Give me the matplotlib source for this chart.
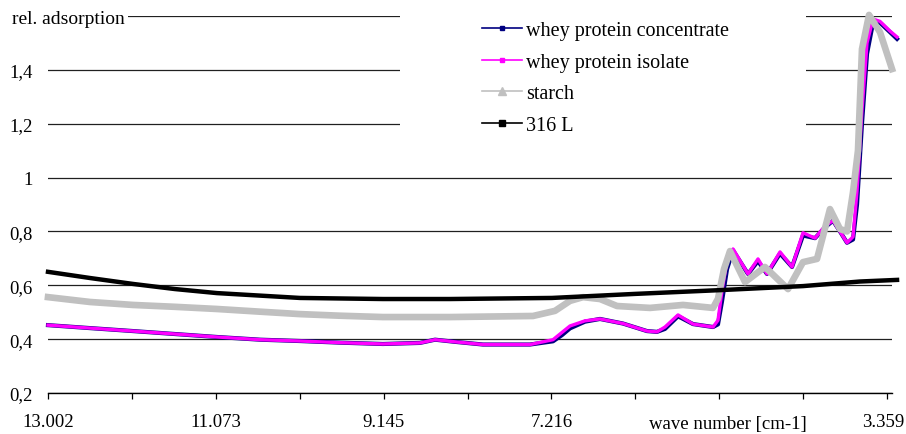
import numpy as np
import matplotlib
matplotlib.use('Agg')
import matplotlib.pyplot as plt
from matplotlib.lines import Line2D
from matplotlib.patches import Rectangle

plt.rcParams['font.family'] = ['Liberation Serif', 'DejaVu Serif']
plt.rcParams['font.size'] = 13.5

# values
wn_protein = [13002, 12519, 12025, 11542, 11060, 10566, 10106, 9646, 9152, 8727,
              8554, 8324, 8003, 7462, 7198, 7095, 7003, 6830, 6658, 6394,
              6118, 6003, 5911, 5761, 5589, 5359, 5302, 5256, 5198, 5129,
              4957, 4842, 4739, 4589, 4451, 4325, 4187, 4072, 3980, 3900,
              3819, 3750, 3704, 3647, 3589, 3520, 3440, 3325, 3244]
wpi = [0.452, 0.441, 0.43, 0.419, 0.408, 0.398, 0.393, 0.387, 0.382, 0.386,
       0.398, 0.39, 0.38, 0.38, 0.398, 0.425, 0.449, 0.468, 0.475, 0.458,
       0.43, 0.427, 0.445, 0.49, 0.456, 0.445, 0.47, 0.58, 0.69, 0.735,
       0.642, 0.698, 0.642, 0.724, 0.668, 0.795, 0.775, 0.82, 0.84, 0.8,
       0.758, 0.78, 0.95, 1.25, 1.5, 1.589, 1.58, 1.544, 1.522]
wpc = [0.452, 0.441, 0.43, 0.419, 0.408, 0.398, 0.393, 0.387, 0.382, 0.386,
       0.398, 0.39, 0.38, 0.38, 0.392, 0.415, 0.44, 0.465, 0.475, 0.458,
       0.43, 0.427, 0.438, 0.485, 0.456, 0.445, 0.455, 0.54, 0.66, 0.73,
       0.642, 0.69, 0.642, 0.718, 0.668, 0.785, 0.775, 0.815, 0.84, 0.8,
       0.758, 0.77, 0.9, 1.2, 1.46, 1.575, 1.575, 1.54, 1.515]

wn_starch = [13002, 12519, 12025, 11542, 11060, 10566, 10106, 9646, 9152, 8382,
             7428, 7175, 7003, 6853, 6658, 6462, 6083, 5704, 5359, 5302,
             5233, 5164, 4991, 4762, 4497, 4325, 4164, 4095, 4015, 3900,
             3819, 3750, 3693, 3647, 3566, 3440, 3302]
starch = [0.556, 0.538, 0.527, 0.52, 0.512, 0.502, 0.493, 0.487, 0.482, 0.482,
          0.486, 0.505, 0.542, 0.556, 0.549, 0.523, 0.516, 0.527, 0.516, 0.55,
          0.66, 0.727, 0.612, 0.668, 0.586, 0.686, 0.698, 0.783, 0.883, 0.809,
          0.80, 0.946, 1.1, 1.477, 1.604, 1.54, 1.403]

wn_316l = [13002, 12519, 12025, 11542, 11060, 10106, 9152, 8382, 7210, 6256,
           5279, 4325, 3670, 3244]
steel_316l = [0.65, 0.627, 0.605, 0.586, 0.571, 0.553, 0.549, 0.549, 0.553, 0.568,
              0.582, 0.597, 0.614, 0.62]

y_ticks = [0.2, 0.4, 0.6, 0.8, 1.0, 1.2, 1.4, 1.6]
y_labels = ['0,2', '0,4', '0,6', '0,8', '1', '1,2', '1,4', '']
x_labels = ['13.002', '', '11.073', '', '9.145', '', '7.216', '', '', '', '']
last_label = '3.359'

W, H = 906, 435
fig = plt.figure(figsize=(W / 100, H / 100), dpi=100)
ax = fig.add_axes([48 / W, 41 / H, (892 - 48) / W, (394 - 17) / H])

ax.plot(wn_protein, wpc, color='#000080', lw=3.0, zorder=3, clip_on=False)
ax.plot(wn_protein, wpi, color='#ff00ff', lw=2.4, zorder=3.1, clip_on=False)
ax.plot(wn_starch, starch, color='#c0c0c0', lw=4.8, zorder=3.2, clip_on=False)
ax.plot(wn_316l, steel_316l, color='black', lw=3.2, zorder=3.3, clip_on=False)

ax.set_xlim(13002, 3302)
ax.set_ylim(0.2, 1.6)

ax.set_yticks(y_ticks)
ax.set_yticklabels(y_labels)
ax.set_xticks(np.linspace(13002, 3359, 11))
ax.set_xticklabels(x_labels)
ax.tick_params(axis='y', length=0, pad=11)
ax.tick_params(axis='x', direction='out', length=4.5, width=0.9, pad=10)

for s in ['left', 'right', 'top']:
    ax.spines[s].set_visible(False)
ax.spines['bottom'].set_linewidth(1.0)
ax.yaxis.grid(True, color='#202020', lw=0.9)
ax.set_axisbelow(True)

# last tick label nudged left a little so it stays inside the picture
fig.text(883 / W, 1 - 414 / H, last_label, ha='center', va='top')

fig.text(125 / W, 1 - 20 / H, 'rel. adsorption', ha='right', va='center',
         fontsize=14, bbox=dict(facecolor='white', edgecolor='none', pad=2))
fig.text(728 / W, 1 - 425 / H, 'wave number [cm-1]', ha='center', va='center')

# white area behind the legend hides the gridlines there
fig.add_artist(Rectangle((400 / W, 1 - 150 / H), 406 / W, 150 / H,
                         transform=fig.transFigure, facecolor='white',
                         edgecolor='none', zorder=1))

handles = [
    Line2D([], [], color='#000080', lw=1.2, marker='s', markersize=3),
    Line2D([], [], color='#ff00ff', lw=1.2, marker='s', markersize=2.5),
    Line2D([], [], color='#c0c0c0', lw=1.2, marker='^', markersize=6),
    Line2D([], [], color='black', lw=1.2, marker='s', markersize=4),
]
labels = ['whey protein concentrate', 'whey protein isolate', 'starch', '316 L']
fig.legend(handles, labels, loc='upper left', bbox_to_anchor=(482 / W, 1 - 22 / H),
           frameon=False, borderpad=0, borderaxespad=0, handlelength=2.0,
           handletextpad=0.2, labelspacing=0.62, fontsize=14.5)

fig.savefig('out.png', dpi=100)
